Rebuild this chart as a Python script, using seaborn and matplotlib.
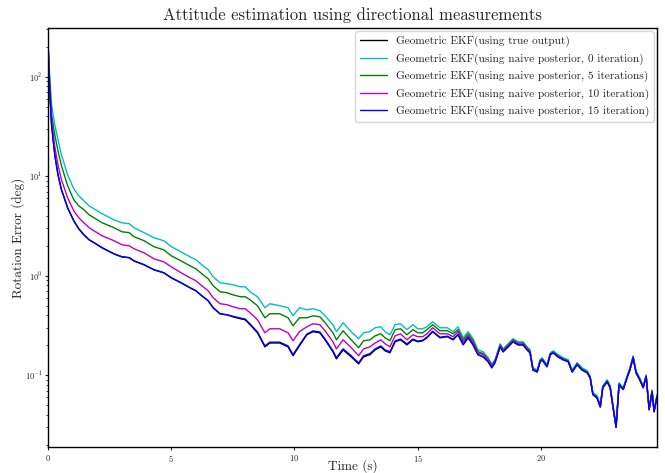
import numpy as np
import pandas as pd
import matplotlib
matplotlib.use("Agg")
import matplotlib.pyplot as plt
import seaborn as sns

# Datos (error de rotación en grados)
t = [0, 0.05, 0.15, 0.28, 0.41, 0.55, 0.65, 0.8, 1.05, 1.25,
     1.46, 1.67, 1.87, 2.2, 2.68, 3.0, 3.3, 3.49, 3.9, 4.3,
     4.7, 5.0, 5.4, 5.76, 6.0, 6.29, 6.5, 6.7, 6.98, 7.26,
     7.5, 7.8, 8.0, 8.2, 8.5, 8.8, 9.0, 9.4, 9.74, 9.94,
     10.2, 10.5, 10.75, 11.03, 11.24, 11.56, 11.7, 11.97, 12.3, 12.6,
     12.8, 13.06, 13.27, 13.5, 13.67, 13.87, 14.08, 14.3, 14.56, 14.8,
     15.0, 15.2, 15.37, 15.6, 15.9, 16.2, 16.43, 16.63, 16.84, 17.04,
     17.24, 17.44, 17.65, 17.85, 18.0, 18.13, 18.34, 18.46, 18.66, 18.86,
     19.07, 19.27, 19.43, 19.55, 19.67, 19.84, 19.96, 20.04, 20.24, 20.37,
     20.49, 20.69, 20.9, 21.1, 21.26, 21.46, 21.66, 21.87, 21.99, 22.1,
     22.27, 22.4, 22.5, 22.68, 22.8, 22.92, 23.04, 23.16, 23.33, 23.5,
     23.6, 23.73, 23.85, 24.0, 24.14, 24.26, 24.38, 24.5, 24.58, 24.7]

err_true = [250, 93.3, 32.9, 16.4, 10.35, 7.32, 6.22, 4.82, 3.57, 2.97,
            2.58, 2.30, 2.15, 1.91, 1.66, 1.55, 1.52, 1.41, 1.29, 1.149,
            1.072, 0.955, 0.850, 0.758, 0.707, 0.615, 0.561, 0.477, 0.415, 0.405,
            0.387, 0.370, 0.361, 0.322, 0.267, 0.193, 0.211, 0.211, 0.193, 0.157,
            0.198, 0.255, 0.274, 0.267, 0.227, 0.172, 0.146, 0.180, 0.153, 0.130,
            0.153, 0.161, 0.180, 0.193, 0.176, 0.168, 0.217, 0.227, 0.202, 0.227,
            0.217, 0.222, 0.238, 0.274, 0.238, 0.244, 0.227, 0.255, 0.202, 0.238,
            0.202, 0.161, 0.153, 0.137, 0.119, 0.134, 0.193, 0.172, 0.193, 0.217,
            0.202, 0.202, 0.180, 0.168, 0.113, 0.108, 0.137, 0.143, 0.122, 0.161,
            0.168, 0.153, 0.143, 0.137, 0.108, 0.128, 0.113, 0.106, 0.094, 0.064,
            0.059, 0.048, 0.075, 0.086, 0.075, 0.047, 0.030, 0.080, 0.072, 0.097,
            0.113, 0.150, 0.106, 0.090, 0.075, 0.097, 0.045, 0.068, 0.043, 0.061]

err_it0 = [250, 132, 52.3, 32.9, 23.3, 16.4, 13.7, 10.35, 7.49, 6.37,
           5.67, 5.05, 4.71, 4.20, 3.65, 3.41, 3.33, 3.04, 2.71, 2.41,
           2.25, 1.96, 1.74, 1.55, 1.45, 1.26, 1.149, 0.977, 0.850, 0.831,
           0.812, 0.775, 0.775, 0.690, 0.615, 0.477, 0.523, 0.500, 0.477, 0.396,
           0.477, 0.455, 0.466, 0.445, 0.396, 0.322, 0.274, 0.337, 0.274, 0.233,
           0.267, 0.274, 0.300, 0.307, 0.274, 0.255, 0.322, 0.329, 0.287, 0.322,
           0.293, 0.293, 0.307, 0.345, 0.300, 0.300, 0.274, 0.307, 0.238, 0.274,
           0.233, 0.180, 0.172, 0.150, 0.130, 0.143, 0.207, 0.184, 0.207, 0.233,
           0.217, 0.217, 0.193, 0.180, 0.119, 0.113, 0.143, 0.150, 0.128, 0.168,
           0.176, 0.161, 0.150, 0.143, 0.113, 0.134, 0.119, 0.111, 0.098, 0.067,
           0.062, 0.050, 0.078, 0.090, 0.078, 0.049, 0.032, 0.084, 0.075, 0.101,
           0.119, 0.157, 0.111, 0.094, 0.078, 0.101, 0.047, 0.071, 0.045, 0.064]

err_it5 = [250, 112, 41.5, 26.1, 18.0, 12.8, 10.6, 8.03, 5.80, 5.05,
           4.61, 4.10, 3.83, 3.41, 3.04, 2.77, 2.71, 2.47, 2.25, 1.96,
           1.82, 1.59, 1.41, 1.26, 1.176, 1.023, 0.933, 0.794, 0.690, 0.675,
           0.644, 0.615, 0.615, 0.574, 0.499, 0.378, 0.415, 0.415, 0.378, 0.314,
           0.378, 0.378, 0.396, 0.387, 0.337, 0.267, 0.227, 0.280, 0.227, 0.189,
           0.222, 0.227, 0.249, 0.261, 0.238, 0.222, 0.287, 0.293, 0.255, 0.287,
           0.267, 0.267, 0.287, 0.322, 0.280, 0.280, 0.261, 0.287, 0.227, 0.261,
           0.222, 0.172, 0.165, 0.146, 0.125, 0.140, 0.202, 0.180, 0.202, 0.227,
           0.211, 0.211, 0.189, 0.176, 0.116, 0.110, 0.140, 0.146, 0.125, 0.164,
           0.172, 0.157, 0.146, 0.140, 0.110, 0.131, 0.116, 0.108, 0.096, 0.065,
           0.061, 0.049, 0.077, 0.088, 0.077, 0.048, 0.031, 0.082, 0.073, 0.099,
           0.116, 0.153, 0.108, 0.092, 0.077, 0.099, 0.046, 0.070, 0.044, 0.062]

err_it10 = [250, 100, 36.1, 19.8, 13.05, 9.22, 7.84, 6.08, 4.50, 3.83,
            3.41, 3.04, 2.83, 2.52, 2.25, 2.05, 2.00, 1.87, 1.70, 1.48,
            1.38, 1.232, 1.072, 0.955, 0.891, 0.775, 0.707, 0.601, 0.523, 0.512,
            0.488, 0.466, 0.466, 0.425, 0.361, 0.267, 0.293, 0.293, 0.267, 0.222,
            0.274, 0.307, 0.329, 0.322, 0.280, 0.217, 0.184, 0.227, 0.189, 0.157,
            0.184, 0.193, 0.211, 0.227, 0.207, 0.193, 0.249, 0.261, 0.227, 0.255,
            0.244, 0.244, 0.261, 0.300, 0.261, 0.261, 0.244, 0.274, 0.217, 0.249,
            0.211, 0.168, 0.161, 0.143, 0.122, 0.137, 0.198, 0.176, 0.198, 0.222,
            0.207, 0.207, 0.184, 0.172, 0.113, 0.108, 0.137, 0.143, 0.122, 0.161,
            0.168, 0.153, 0.143, 0.137, 0.108, 0.128, 0.113, 0.106, 0.094, 0.064,
            0.059, 0.048, 0.075, 0.086, 0.075, 0.047, 0.030, 0.080, 0.072, 0.097,
            0.113, 0.150, 0.106, 0.090, 0.075, 0.097, 0.045, 0.068, 0.043, 0.061]

err_it15 = [250, 93.3, 32.9, 16.4, 10.35, 7.32, 6.22, 4.82, 3.57, 2.97,
            2.58, 2.30, 2.15, 1.91, 1.66, 1.55, 1.52, 1.41, 1.29, 1.149,
            1.072, 0.955, 0.850, 0.758, 0.707, 0.615, 0.561, 0.477, 0.415, 0.405,
            0.392, 0.376, 0.367, 0.327, 0.272, 0.197, 0.215, 0.215, 0.197, 0.161,
            0.202, 0.259, 0.279, 0.272, 0.231, 0.176, 0.150, 0.184, 0.157, 0.133,
            0.157, 0.165, 0.184, 0.197, 0.180, 0.172, 0.221, 0.231, 0.206, 0.231,
            0.220, 0.225, 0.241, 0.277, 0.241, 0.247, 0.230, 0.258, 0.205, 0.241,
            0.202, 0.161, 0.153, 0.137, 0.119, 0.134, 0.193, 0.172, 0.193, 0.217,
            0.202, 0.202, 0.180, 0.168, 0.113, 0.108, 0.137, 0.143, 0.122, 0.161,
            0.168, 0.153, 0.143, 0.137, 0.108, 0.128, 0.113, 0.106, 0.094, 0.064,
            0.059, 0.048, 0.075, 0.086, 0.075, 0.047, 0.030, 0.080, 0.072, 0.097,
            0.113, 0.150, 0.106, 0.090, 0.075, 0.097, 0.045, 0.068, 0.043, 0.061]

labels = ["Geometric EKF(using true output)",
          "Geometric EKF(using naive posterior, 0 iteration)",
          "Geometric EKF(using naive posterior, 5 iterations)",
          "Geometric EKF(using naive posterior, 10 iteration)",
          "Geometric EKF(using naive posterior, 15 iteration)"]
colors = ["k", "c", "g", "m", "b"]
series = [err_true, err_it0, err_it5, err_it10, err_it15]

df = pd.concat([pd.DataFrame({"t": t, "err": s, "method": lab})
                for s, lab in zip(series, labels)], ignore_index=True)

sns.set_style("white")
plt.rcParams["font.family"] = "serif"
plt.rcParams["font.serif"] = ["cmr10", "DejaVu Serif"]
plt.rcParams["mathtext.fontset"] = "cm"
plt.rcParams["axes.formatter.use_mathtext"] = True

fig = plt.figure(figsize=(6.65, 4.73), dpi=100)
ax = fig.add_axes([0.072, 0.055, 0.916, 0.886])

sns.lineplot(data=df, x="t", y="err", hue="method", palette=dict(zip(labels, colors)),
             hue_order=labels, estimator=None, sort=False, linewidth=1.0, ax=ax)

ax.set_yscale("log")
ax.set_xlim(0, 24.7)
ax.set_ylim(0.019, 310)
ax.set_xticks([0, 5, 10, 15, 20])
ax.tick_params(axis="both", which="major", labelsize=6, length=2.5, pad=1.5,
               direction="out", bottom=True, left=True)
ax.tick_params(axis="y", which="minor", length=1.5, left=True)
for sp in ax.spines.values():
    sp.set_color("black")
    sp.set_linewidth(1.0)

ax.set_title("Attitude estimation using directional measurements", fontsize=12, pad=6)
ax.set_xlabel("Time (s)", fontsize=9.5)
ax.set_ylabel("Rotation Error (deg)", fontsize=9.5)
ax.xaxis.set_label_coords(0.5, -0.028, transform=ax.transAxes)
ax.yaxis.set_label_coords(-0.038, 0.5, transform=ax.transAxes)

handles, labs = ax.get_legend_handles_labels()
ax.legend(handles, labs, loc="upper right", fontsize=8.1, frameon=True,
          handlelength=2.4, borderaxespad=0.3, labelspacing=0.55)

fig.savefig("out.png", dpi=100)
